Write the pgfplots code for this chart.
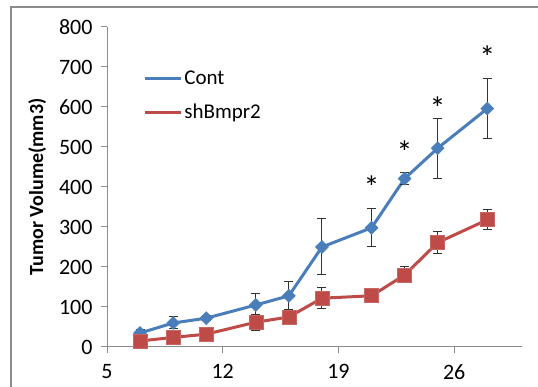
\documentclass[border=0pt]{standalone}
\usepackage{fontspec}
\setmainfont{Carlito}
\usepackage{pgfplots}
\pgfplotsset{compat=1.18}
\definecolor{contblue}{HTML}{4A7EBB}
\definecolor{shred}{HTML}{BE4B48}
\definecolor{axgray}{HTML}{8C8C8C}
\pgfplotstableread{
x y e
7 35 8
9 60 15
11 72 6
14 105 28
16 128 35
18 250 70
21 298 48
23 421 14
25 497 75
28 596 74
}\conttab
\pgfplotstableread{
x y e
7 15 5
9 24 5
11 32 5
14 62 20
16 75 10
18 122 27
21 128 4
23 180 20
25 261 28
28 318 25
}\shtab
\begin{document}
\begin{tikzpicture}[x=1pt,y=1pt]
\fill[white] (0,0) rectangle (538,387);
\draw[axgray, line width=1.5pt] (11,-10) -- (11,380) -- (560,380);
\begin{axis}[
  at={(107pt,40pt)}, anchor=south west,
  width=415pt, height=320pt, scale only axis,
  xmin=5, xmax=30.1, ymin=0, ymax=800,
  axis x line*=bottom, axis y line*=left,
  xtick={5,12,19,26}, ytick={0,100,...,800},
  tick align=outside, major tick length=6pt,
  tick style={axgray, line width=1pt},
  axis line style={axgray, line width=1pt},
  tick label style={font=\fontsize{22}{26}\selectfont, text=black},
  yticklabel style={xshift=-5pt},
  xticklabel style={yshift=-8pt},
  /pgf/number format/assume math mode=true,
  ylabel={Tumor Volume(mm3)},
  ylabel style={font=\bfseries\fontsize{20}{24}\selectfont, yshift=6pt},
  legend style={at={(0.08,0.875)}, anchor=north west, draw=none, fill=none,
    font=\fontsize{21}{25}\selectfont, row sep=14pt},
  legend cell align=left,
  legend image code/.code={\draw[mark repeat=2,mark phase=2,#1] (0pt,0pt) -- (18pt,0pt) -- (36pt,0pt);},
  clip=false,
]
\addplot[contblue, line width=3pt, mark=square*, mark size=4.6pt,
  mark options={solid, rotate=45, fill=contblue, draw=contblue, line width=0.5pt},
  error bars/.cd, y dir=both, y explicit, error mark=|,
  error bar style={line width=1pt, black!80, solid},
  error mark options={black!80, mark size=4.5pt, line width=1pt}]
  table[x=x, y=y, y error=e] {\conttab};
\addlegendentry{Cont}
\addplot[shred, line width=3pt, mark=square*, mark size=7pt,
  mark options={solid, fill=shred, draw=shred!85!white, line width=0.6pt},
  error bars/.cd, y dir=both, y explicit, error mark=|,
  error bar style={line width=1pt, black!80, solid},
  error mark options={black!80, mark size=4.5pt, line width=1pt}]
  table[x=x, y=y, y error=e] {\shtab};
\addlegendentry{shBmpr2}
\node[yshift=-7pt] at (axis cs:21,417) {\fontsize{32}{34}\selectfont *};
\node[yshift=-7pt] at (axis cs:23,505) {\fontsize{32}{34}\selectfont *};
\node[yshift=-7pt] at (axis cs:25,615) {\fontsize{32}{34}\selectfont *};
\node[yshift=-7pt] at (axis cs:28,742) {\fontsize{32}{34}\selectfont *};
\end{axis}
\pgfresetboundingbox
\path[use as bounding box] (0,0) rectangle (538,387);
\end{tikzpicture}
\end{document}
